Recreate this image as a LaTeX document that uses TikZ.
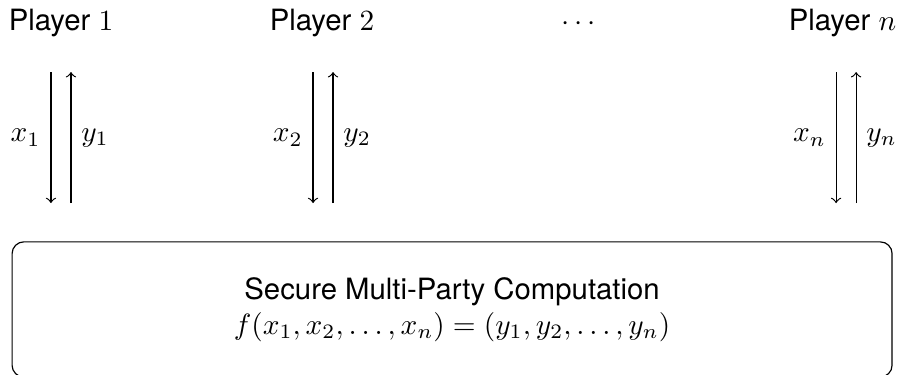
\documentclass[tikz,border=0pt]{standalone}
\usepackage{fontspec}
\setmainfont{TeX Gyre Heros}
\usepackage{amsmath}
\usetikzlibrary{positioning}

\begin{document}
\begin{tikzpicture}
    \useasboundingbox (0, 0) rectangle (10.79, 4.485);

    \node[anchor=base] at (0.731, 4.125) (Player1) {Player $1$};
    \node[anchor=base] at (3.861, 4.125) (Player2) {Player $2$};
    \node[anchor=base] at (6.966, 4.125) (Dots)    {$\cdots$};
    \node[anchor=base] at (10.10, 4.125) (PlayerN) {Player $n$};

    \node[draw, rounded corners=4pt, minimum width=10.55cm, minimum height=1.62cm,
          align=center] at (5.42, 0.775) (MPC)
        {Secure Multi-Party Computation\\ $f(x_1, x_2, \dots, x_n) = (y_1, y_2, \dots, y_n)$};

    % arrow ends between the players and the box
    \coordinate (In1)   at (0.611, 3.621);  \coordinate (In1e)  at (0.611, 2.050);
    \coordinate (Out1)  at (0.851, 2.050);  \coordinate (Out1e) at (0.851, 3.621);
    \coordinate (In2)   at (3.753, 3.621);  \coordinate (In2e)  at (3.753, 2.050);
    \coordinate (Out2)  at (3.993, 2.050);  \coordinate (Out2e) at (3.993, 3.621);
    \coordinate (InN)   at (10.024, 3.621); \coordinate (InNe)  at (10.024, 2.050);
    \coordinate (OutN)  at (10.264, 2.050); \coordinate (OutNe) at (10.264, 3.621);

    \draw [->] (In1)  -- node[left]  {$x_1$} (In1e);
    \draw [->] (Out1) -- node[right] {$y_1$} (Out1e);
    \draw [->] (In2)  -- node[left]  {$x_2$} (In2e);
    \draw [->] (Out2) -- node[right] {$y_2$} (Out2e);
    \draw [->] (InN)  -- node[left]  {$x_n$} (InNe);
    \draw [->] (OutN) -- node[right] {$y_n$} (OutNe);
\end{tikzpicture}
\end{document}
